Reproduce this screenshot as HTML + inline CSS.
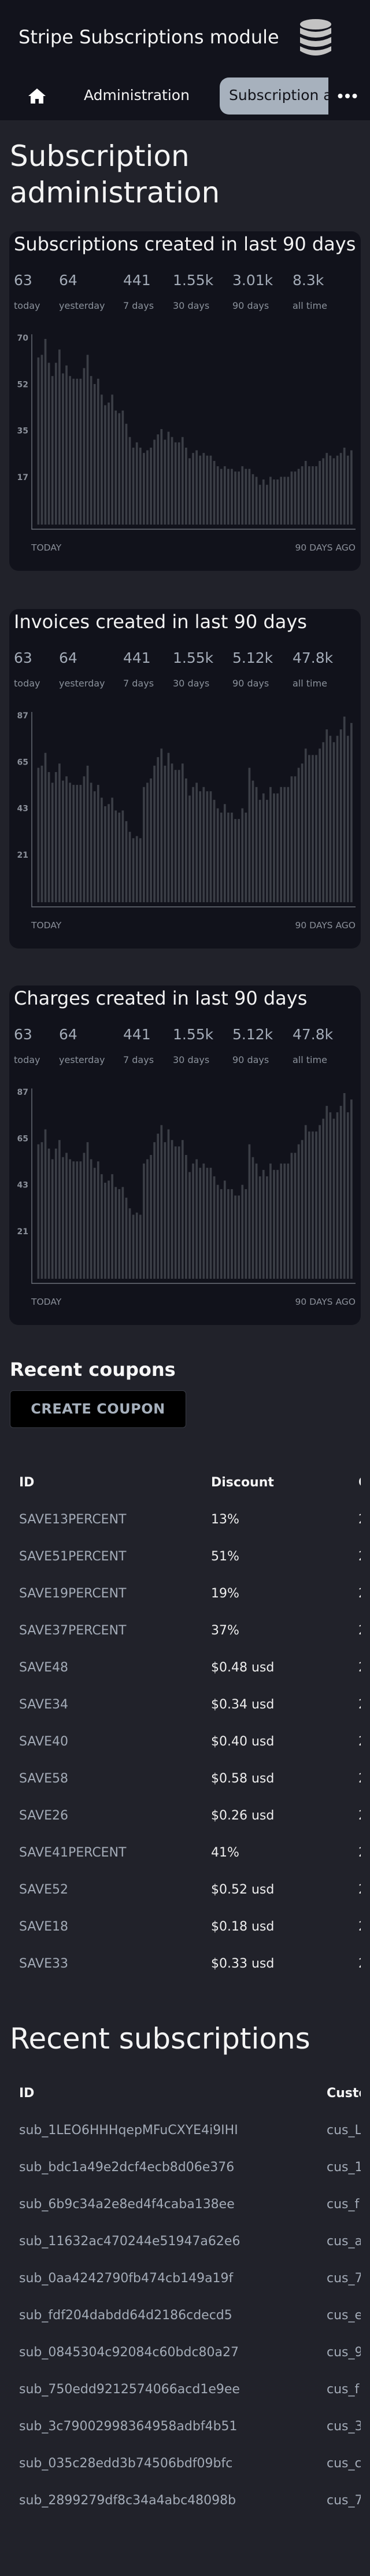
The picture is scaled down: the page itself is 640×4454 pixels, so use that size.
<!DOCTYPE html>
<html><head><meta charset="utf-8">
<style>
*{margin:0;padding:0;box-sizing:border-box}
body{width:640px;height:4454px;overflow:hidden;background:#21222a;font-family:"DejaVu Sans","Liberation Sans",sans-serif;position:relative;color:#f2f2f2}
.abs{position:absolute;white-space:nowrap}
#header{position:absolute;left:0;top:0;width:640px;height:208px;background:#12131c}
.card{position:absolute;left:16px;width:608px;height:587px;background:#11121b;border-radius:16px;overflow:hidden}
.card-title{position:absolute;left:8px;top:2px;font-size:32px;line-height:40px;color:#f2f2f2;white-space:nowrap}
.stat-num{position:absolute;top:70px;font-size:25px;line-height:30px;color:#a3abb7}
.stat-lbl{position:absolute;top:119px;font-size:16px;line-height:20px;color:#8b929c}
.card svg{position:absolute;left:0;top:0}
.tbl{position:absolute;left:0;width:624px;overflow:hidden}
.row{position:relative;height:64px;line-height:64px;font-size:22px;white-space:nowrap}
.row span{position:absolute;top:0}
.hdr{font-weight:bold;color:#f5f5f5}
.c1{color:#a3abb7}
.c2{color:#eeeeee}
</style></head>
<body>
<div id="header">
  <div class="abs" style="left:32px;top:44px;font-size:32px;line-height:40px;color:#f4f4f4">Stripe Subscriptions module</div>
  <svg class="abs" style="left:518px;top:32px" width="56" height="66" viewBox="0 0 56 66">
    <ellipse cx="28" cy="10" rx="27" ry="9" fill="#c3c3c3"/>
    <path d="M1 16 Q28 30 55 16 V26 Q28 40 1 26Z" fill="#c3c3c3"/>
    <path d="M1 32 Q28 46 55 32 V42 Q28 56 1 42Z" fill="#c3c3c3"/>
    <path d="M1 48 Q28 62 55 48 V56 Q28 72 1 56Z" fill="#c3c3c3"/>
  </svg>
  <svg class="abs" style="left:48px;top:152px" width="32" height="28" viewBox="0 0 32 28">
    <path d="M16 1 L31 14 L27 14 L27 27 L19 27 L19 19 L13 19 L13 27 L5 27 L5 14 L1 14Z" fill="#fff"/>
  </svg>
  <div class="abs" style="left:145px;top:150px;font-size:25px;line-height:30px;color:#f4f4f4">Administration</div>
  <div class="abs" style="left:380px;top:134px;width:188px;height:64px;background:#a7b1bd;border-radius:16px 0 0 16px;overflow:hidden">
    <div class="abs" style="left:16px;top:16px;font-size:25px;line-height:30px;color:#12131a">Subscription administration</div>
  </div>
  <svg class="abs" style="left:584px;top:161px" width="34" height="10" viewBox="0 0 34 10">
    <circle cx="4.5" cy="5" r="4" fill="#fff"/><circle cx="17" cy="5" r="4" fill="#fff"/><circle cx="29.5" cy="5" r="4" fill="#fff"/>
  </svg>
</div>

<div class="abs" style="left:17px;top:239px;font-size:50px;line-height:63px;color:#f4f4f4;white-space:normal;width:600px">Subscription<br>administration</div>

<div class="card" id="card-subs" style="top:400px">
  <div class="card-title">Subscriptions created in last 90 days</div>
  <div class="stat-num" style="left:8px">63</div><div class="stat-lbl" style="left:8px">today</div>
  <div class="stat-num" style="left:86px">64</div><div class="stat-lbl" style="left:86px">yesterday</div>
  <div class="stat-num" style="left:197px">441</div><div class="stat-lbl" style="left:197px">7 days</div>
  <div class="stat-num" style="left:283px">1.55k</div><div class="stat-lbl" style="left:283px">30 days</div>
  <div class="stat-num" style="left:386px">3.01k</div><div class="stat-lbl" style="left:386px">90 days</div>
  <div class="stat-num" style="left:490px">8.3k</div><div class="stat-lbl" style="left:490px">all time</div>
</div>

<div class="card" id="card-inv" style="top:1053px">
  <div class="card-title">Invoices created in last 90 days</div>
  <div class="stat-num" style="left:8px">63</div><div class="stat-lbl" style="left:8px">today</div>
  <div class="stat-num" style="left:86px">64</div><div class="stat-lbl" style="left:86px">yesterday</div>
  <div class="stat-num" style="left:197px">441</div><div class="stat-lbl" style="left:197px">7 days</div>
  <div class="stat-num" style="left:283px">1.55k</div><div class="stat-lbl" style="left:283px">30 days</div>
  <div class="stat-num" style="left:386px">5.12k</div><div class="stat-lbl" style="left:386px">90 days</div>
  <div class="stat-num" style="left:490px">47.8k</div><div class="stat-lbl" style="left:490px">all time</div>
</div>

<div class="card" id="card-chg" style="top:1704px">
  <div class="card-title">Charges created in last 90 days</div>
  <div class="stat-num" style="left:8px">63</div><div class="stat-lbl" style="left:8px">today</div>
  <div class="stat-num" style="left:86px">64</div><div class="stat-lbl" style="left:86px">yesterday</div>
  <div class="stat-num" style="left:197px">441</div><div class="stat-lbl" style="left:197px">7 days</div>
  <div class="stat-num" style="left:283px">1.55k</div><div class="stat-lbl" style="left:283px">30 days</div>
  <div class="stat-num" style="left:386px">5.12k</div><div class="stat-lbl" style="left:386px">90 days</div>
  <div class="stat-num" style="left:490px">47.8k</div><div class="stat-lbl" style="left:490px">all time</div>
</div>

<div class="abs" style="left:17px;top:2348px;font-size:32px;line-height:40px;font-weight:bold;color:#f6f6f6">Recent coupons</div>
<div class="abs" style="left:17px;top:2404px;width:305px;height:65px;background:#000;border:1px solid #383b44;border-radius:6px;font-size:24px;line-height:63px;font-weight:bold;color:#a6b0bc;text-align:center;letter-spacing:0.5px">CREATE COUPON</div>

<div class="tbl" style="top:2532px">
  <div class="row hdr"><span style="left:33px">ID</span><span style="left:365px">Discount</span><span style="left:620px">Created</span></div>
  <div class="row"><span class="c1" style="left:33px">SAVE13PERCENT</span><span class="c2" style="left:365px">13%</span><span class="c2" style="left:620px">2024</span></div>
  <div class="row"><span class="c1" style="left:33px">SAVE51PERCENT</span><span class="c2" style="left:365px">51%</span><span class="c2" style="left:620px">2024</span></div>
  <div class="row"><span class="c1" style="left:33px">SAVE19PERCENT</span><span class="c2" style="left:365px">19%</span><span class="c2" style="left:620px">2024</span></div>
  <div class="row"><span class="c1" style="left:33px">SAVE37PERCENT</span><span class="c2" style="left:365px">37%</span><span class="c2" style="left:620px">2024</span></div>
  <div class="row"><span class="c1" style="left:33px">SAVE48</span><span class="c2" style="left:365px">$0.48 usd</span><span class="c2" style="left:620px">2024</span></div>
  <div class="row"><span class="c1" style="left:33px">SAVE34</span><span class="c2" style="left:365px">$0.34 usd</span><span class="c2" style="left:620px">2024</span></div>
  <div class="row"><span class="c1" style="left:33px">SAVE40</span><span class="c2" style="left:365px">$0.40 usd</span><span class="c2" style="left:620px">2024</span></div>
  <div class="row"><span class="c1" style="left:33px">SAVE58</span><span class="c2" style="left:365px">$0.58 usd</span><span class="c2" style="left:620px">2024</span></div>
  <div class="row"><span class="c1" style="left:33px">SAVE26</span><span class="c2" style="left:365px">$0.26 usd</span><span class="c2" style="left:620px">2024</span></div>
  <div class="row"><span class="c1" style="left:33px">SAVE41PERCENT</span><span class="c2" style="left:365px">41%</span><span class="c2" style="left:620px">2024</span></div>
  <div class="row"><span class="c1" style="left:33px">SAVE52</span><span class="c2" style="left:365px">$0.52 usd</span><span class="c2" style="left:620px">2024</span></div>
  <div class="row"><span class="c1" style="left:33px">SAVE18</span><span class="c2" style="left:365px">$0.18 usd</span><span class="c2" style="left:620px">2024</span></div>
  <div class="row"><span class="c1" style="left:33px">SAVE33</span><span class="c2" style="left:365px">$0.33 usd</span><span class="c2" style="left:620px">2024</span></div>
</div>

<div class="abs" style="left:17px;top:3494px;font-size:50px;line-height:63px;color:#f4f4f4">Recent subscriptions</div>

<div class="tbl" style="top:3588px">
  <div class="row hdr"><span style="left:33px">ID</span><span style="left:565px">Customer</span></div>
  <div class="row"><span class="c1" style="left:33px">sub_1LEO6HHHqepMFuCXYE4i9IHI</span><span class="c1" style="left:565px">cus_L</span></div>
  <div class="row"><span class="c1" style="left:33px">sub_bdc1a49e2dcf4ecb8d06e376</span><span class="c1" style="left:565px">cus_1</span></div>
  <div class="row"><span class="c1" style="left:33px">sub_6b9c34a2e8ed4f4caba138ee</span><span class="c1" style="left:565px">cus_f</span></div>
  <div class="row"><span class="c1" style="left:33px">sub_11632ac470244e51947a62e6</span><span class="c1" style="left:565px">cus_a</span></div>
  <div class="row"><span class="c1" style="left:33px">sub_0aa4242790fb474cb149a19f</span><span class="c1" style="left:565px">cus_7</span></div>
  <div class="row"><span class="c1" style="left:33px">sub_fdf204dabdd64d2186cdecd5</span><span class="c1" style="left:565px">cus_e</span></div>
  <div class="row"><span class="c1" style="left:33px">sub_0845304c92084c60bdc80a27</span><span class="c1" style="left:565px">cus_9</span></div>
  <div class="row"><span class="c1" style="left:33px">sub_750edd9212574066acd1e9ee</span><span class="c1" style="left:565px">cus_f</span></div>
  <div class="row"><span class="c1" style="left:33px">sub_3c79002998364958adbf4b51</span><span class="c1" style="left:565px">cus_3</span></div>
  <div class="row"><span class="c1" style="left:33px">sub_035c28edd3b74506bdf09bfc</span><span class="c1" style="left:565px">cus_c</span></div>
  <div class="row"><span class="c1" style="left:33px">sub_2899279df8c34a4abc48098b</span><span class="c1" style="left:565px">cus_7</span></div>
</div>

<script>
const subsValues = [63,64,70,61,56,61,66,57,60,56,55,55,55,59,64,56,53,55,49,45,46,49,43,42,43,38,33,29,31,29,27,28,29,32,34,36,32,35,33,31,31,33,29,25,27,28,26,27,26,26,24,22,21,22,21,21,20,20,22,21,21,19,18,15,17,15,18,17,17,18,18,18,20,20,21,22,24,22,22,22,24,25,27,26,25,26,27,29,26,28];
const invoiceValues = [63,64,70,61,56,61,65,57,59,56,55,55,55,59,64,56,52,55,49,45,46,49,43,42,43,38,33,30,31,30,54,56,58,64,68,72,64,70,65,62,62,65,58,50,54,56,52,54,52,52,48,44,42,46,42,42,39,39,44,42,63,57,54,48,51,48,54,51,51,54,54,54,59,59,63,65,72,69,69,69,72,75,81,78,75,78,81,87,78,84];
const chargeValues = [63,64,70,61,56,61,65,57,59,56,55,55,55,59,64,56,52,55,49,45,46,49,43,42,43,38,33,30,31,30,54,56,58,64,68,72,64,70,65,62,62,65,58,50,54,56,52,54,52,52,48,44,42,46,42,42,39,39,44,42,63,57,54,48,51,48,54,51,51,54,54,54,59,59,63,65,72,69,69,69,72,75,81,78,75,78,81,87,78,84];
const tickFractions = [1, 0.75, 0.5, 0.25];
const xLabels = ["TODAY", "90 DAYS AGO"];

const NS = "http://www.w3.org/2000/svg";
function drawChart(cardId, values, prefix) {
  const card = document.getElementById(cardId);
  const svg = document.createElementNS(NS, "svg");
  svg.setAttribute("width", "608");
  svg.setAttribute("height", "587");
  
  
  const axisX = 39, axisTop = 178, axisBottom = 515, xEnd = 599;
  const plotBottom = 507, plotHeight = 321;
  const firstBar = 48.5, lastBar = 590, barW = 3.7;
  const maxV = Math.max(...values);
  const yScale = v => plotBottom - v / maxV * plotHeight;
  const xScale = i => firstBar + i * (lastBar - firstBar) / (values.length - 1);
  values.forEach((v, i) => {
    const r = document.createElementNS(NS, "rect");
    r.setAttribute("x", xScale(i));
    r.setAttribute("y", yScale(v));
    r.setAttribute("width", barW);
    r.setAttribute("height", plotBottom - yScale(v));
    r.setAttribute("fill", "#3b3e46");
    
    
    svg.appendChild(r);
  });
  const ax = document.createElementNS(NS, "path");
  ax.setAttribute("d", `M${axisX} ${axisTop} V${axisBottom} H${xEnd}`);
  ax.setAttribute("stroke", "#6c717b");
  ax.setAttribute("stroke-width", "1.4");
  ax.setAttribute("fill", "none");
  
  
  svg.appendChild(ax);
  tickFractions.forEach(f => {
    const t = document.createElementNS(NS, "text");
    const v = Math.floor(maxV * f);
    t.setAttribute("x", 33);
    t.setAttribute("y", yScale(maxV * f) + 3);
    t.setAttribute("text-anchor", "end");
    t.setAttribute("font-size", "14");
    t.setAttribute("font-weight", "bold");
    t.setAttribute("fill", "#8a8f99");
    t.setAttribute("font-family", "DejaVu Sans, sans-serif");
    t.textContent = v;
    
    
    svg.appendChild(t);
  });
  xLabels.forEach((lbl, i) => {
    const t = document.createElementNS(NS, "text");
    t.setAttribute("x", i === 0 ? axisX - 1 : xEnd);
    t.setAttribute("y", 552);
    t.setAttribute("text-anchor", i === 0 ? "start" : "end");
    t.setAttribute("font-size", "15.5");
    t.setAttribute("fill", "#8a8f99");
    t.setAttribute("font-family", "DejaVu Sans, sans-serif");
    t.textContent = lbl;
    
    
    svg.appendChild(t);
  });
  card.appendChild(svg);
}
drawChart("card-subs", subsValues, "subscriptions");
drawChart("card-inv", invoiceValues, "invoices");
drawChart("card-chg", chargeValues, "charges");
</script>
</body></html>
